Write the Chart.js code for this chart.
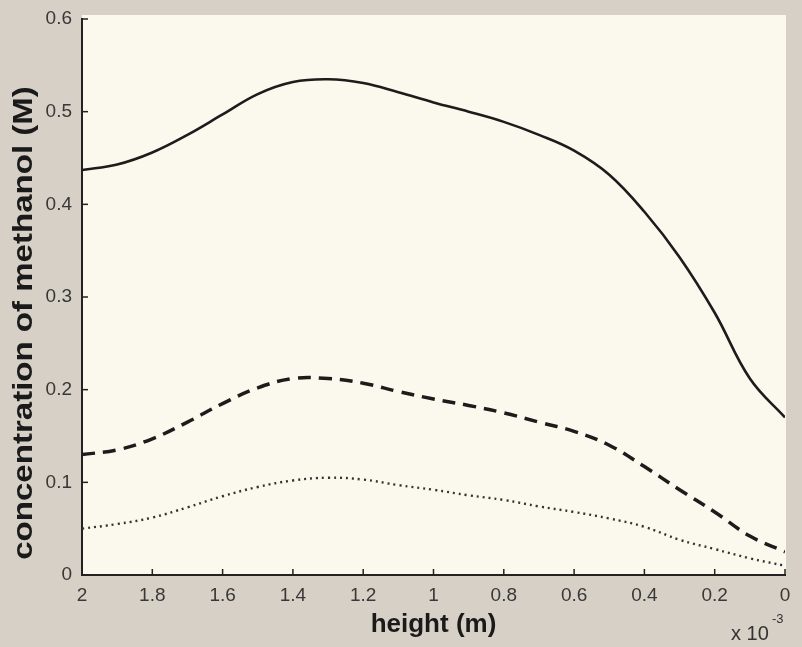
<!DOCTYPE html>
<html>
<head>
<meta charset="utf-8">
<script src="https://cdn.jsdelivr.net/npm/chart.js@4.4.1/dist/chart.umd.min.js"></script>
<style>
  body { margin: 0; background: #d6d0c7; }
  #wrap { width: 802px; height: 647px; }
</style>
</head>
<body>
<div id="wrap"><canvas id="methanolChart" width="802" height="647"></canvas></div>
<script>
// height in units of 1e-3 m (axis runs from 2 down to 0)
const heights = [2.0, 1.9, 1.8, 1.7, 1.6, 1.5, 1.4, 1.3, 1.2, 1.1, 1.0,
                 0.9, 0.8, 0.7, 0.6, 0.5, 0.4, 0.3, 0.2, 0.1, 0.0];
const solidSeries  = [0.437, 0.443, 0.456, 0.475, 0.497, 0.519, 0.532, 0.535, 0.531, 0.521, 0.510,
                      0.500, 0.489, 0.475, 0.458, 0.432, 0.392, 0.343, 0.283, 0.212, 0.170];
const dashedSeries = [0.130, 0.135, 0.147, 0.165, 0.185, 0.202, 0.212, 0.212, 0.207, 0.198, 0.190,
                      0.183, 0.175, 0.165, 0.155, 0.140, 0.117, 0.092, 0.068, 0.042, 0.025];
const dottedSeries = [0.050, 0.055, 0.062, 0.073, 0.085, 0.095, 0.102, 0.105, 0.103, 0.097, 0.092,
                      0.086, 0.081, 0.074, 0.068, 0.061, 0.052, 0.038, 0.028, 0.018, 0.010];
const yTicks = [0, 0.1, 0.2, 0.3, 0.4, 0.5, 0.6];

const toPoints = arr => heights.map((h, i) => ({ x: h, y: arr[i] }));

// paper background + cream plot area
const paperPlugin = {
    id: 'paper',
    beforeDraw(chart) {
        const { ctx, chartArea: a } = chart;
        ctx.save();
        ctx.fillStyle = '#d6d0c7';
        ctx.fillRect(0, 0, chart.width, chart.height);
        ctx.fillStyle = '#fbf8ee';
        ctx.fillRect(a.left, a.top - 4, a.right - a.left + 1, a.bottom - a.top + 4);
        ctx.restore();
    },
    afterDraw(chart) {
        const { ctx, chartArea: a, scales } = chart;
        ctx.save();
        // inward tick marks, matlab style
        ctx.strokeStyle = '#222';
        ctx.lineWidth = 1.5;
        scales.x.ticks.forEach(t => {
            const px = scales.x.getPixelForValue(t.value);
            ctx.beginPath();
            ctx.moveTo(px, a.bottom);
            ctx.lineTo(px, a.bottom - 6);
            ctx.stroke();
        });
        scales.y.ticks.forEach(t => {
            const py = scales.y.getPixelForValue(t.value);
            ctx.beginPath();
            ctx.moveTo(a.left, py);
            ctx.lineTo(a.left + 6, py);
            ctx.stroke();
        });
        // y axis title (stretched like the scan)
        ctx.fillStyle = '#1a1a1a';
        ctx.font = 'bold 28px "Liberation Sans", Arial, sans-serif';
        ctx.textAlign = 'center';
        ctx.textBaseline = 'middle';
        ctx.translate(24, 323);
        ctx.rotate(-Math.PI / 2);
        ctx.scale(1.18, 1);
        ctx.fillText('concentration of methanol (M)', 0, 0);
        ctx.restore();
        // exponent label
        ctx.save();
        ctx.fillStyle = '#333';
        ctx.font = '20px "Liberation Sans", Arial, sans-serif';
        ctx.textBaseline = 'alphabetic';
        ctx.fillText('x 10', 731, 640);
        ctx.font = '13px "Liberation Sans", Arial, sans-serif';
        ctx.fillText('-3', 772, 623);
        ctx.restore();
    }
};

const ctx = document.getElementById('methanolChart').getContext('2d');
const methanolChart = new Chart(ctx, {
    type: 'line',
    data: {
        datasets: [{
            label: 'solid',
            data: toPoints(solidSeries),
            borderColor: '#1c1c1c',
            borderWidth: 2.6,
            pointRadius: 0,
            tension: 0.4
        }, {
            label: 'dashed',
            data: toPoints(dashedSeries),
            borderColor: '#1c1c1c',
            borderWidth: 3.5,
            borderDash: [13, 8],
            pointRadius: 0,
            tension: 0.4
        }, {
            label: 'dotted',
            data: toPoints(dottedSeries),
            borderColor: '#333',
            borderWidth: 2.4,
            borderDash: [2, 4],
            pointRadius: 0,
            tension: 0.4
        }]
    },
    options: {
        responsive: false,
        animation: false,
        devicePixelRatio: 1,
        layout: { padding: { top: 19, right: 17, left: 0, bottom: 0 } },
        plugins: {
            legend: { display: false },
            tooltip: { enabled: false }
        },
        scales: {
            x: {
                type: 'linear',
                reverse: true,
                min: 0,
                max: 2,
                afterFit: s => { s.height = 72; },
                grid: { display: false },
                border: { display: true, color: '#222', width: 2 },
                ticks: {
                    stepSize: 0.2,
                    padding: 1,
                    color: '#383838',
                    font: { family: '"Liberation Sans", Arial, sans-serif', size: 19 },
                    callback: v => String(Number(v.toFixed(1)))
                },
                title: {
                    display: true,
                    text: 'height (m)',
                    color: '#1a1a1a',
                    padding: { top: 0, bottom: 7 },
                    font: { family: '"Liberation Sans", Arial, sans-serif', size: 26, weight: 'bold' }
                }
            },
            y: {
                min: 0,
                max: 0.6,
                afterFit: s => { s.width = 82; },
                afterBuildTicks: s => { s.ticks = yTicks.map(v => ({ value: v })); },
                grid: { display: false },
                border: { display: true, color: '#222', width: 2 },
                ticks: {
                    padding: 2,
                    color: '#383838',
                    font: { family: '"Liberation Sans", Arial, sans-serif', size: 19 },
                    callback: v => String(Number(v.toFixed(1)))
                }
            }
        }
    },
    plugins: [paperPlugin]
});
</script>
</body>
</html>
